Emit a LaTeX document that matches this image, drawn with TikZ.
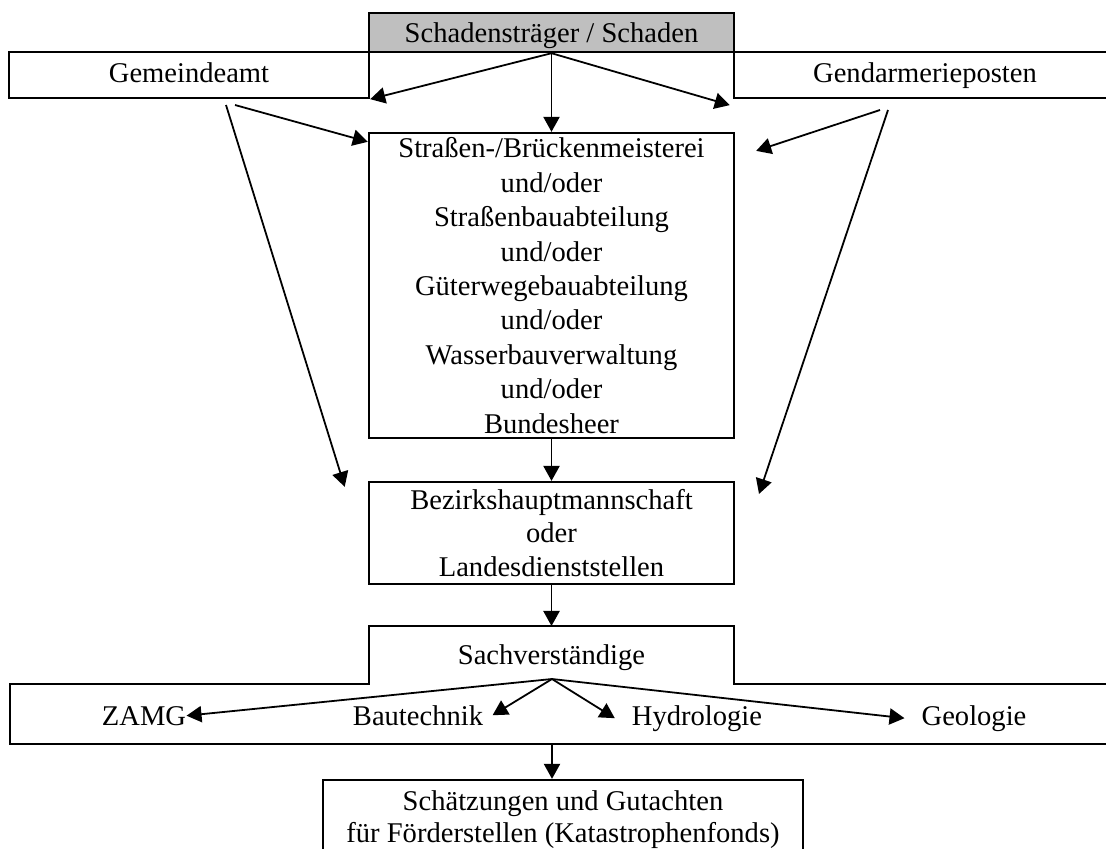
\documentclass[tikz,border=0pt]{standalone}
\usepackage{fontspec}
\setmainfont{Liberation Serif}
\usetikzlibrary{arrows.meta}
\tikzstyle{arr}=[-{Triangle[length=6.3pt,width=6.8pt]},line width=0.75pt]
\tikzstyle{box}=[draw,line width=1pt,inner sep=0pt,align=center]
\tikzstyle{cell}=[box,text height=8pt,text depth=2pt]
\tikzstyle{lbl}=[inner sep=0pt,anchor=base]

\begin{document}
\begin{tikzpicture}[x=0.42pt,y=-0.42pt,font=\fontsize{12}{14.2}\selectfont]
\def\colw{153.3pt}
\useasboundingbox (0,0) rectangle (1106,848);
\clip (0,0) rectangle (1106,848);
% obere Zeilen
\node[cell,text depth=0pt,fill=gray!50,minimum width=\colw,minimum height=16.4pt] (schaden) at (551.5,32.5) {Schadensträger / Schaden};
\node[cell,minimum width=151.2pt,minimum height=19.3pt] (gemeinde) at (189,75) {Gemeindeamt};
\node[cell,minimum width=160.4pt,minimum height=19.3pt] (gendarm) at (925,75) {Gendarmerieposten};
\node[box,minimum width=\colw,minimum height=128.1pt,font=\fontsize{12}{14.45}\selectfont] (mid) at (551.5,285.5)
  {Straßen-/Brückenmeisterei\\und/oder\\Straßenbauabteilung\\und/oder\\Güterwegebauabteilung\\und/oder\\Wasserbauverwaltung\\und/oder\\Bundesheer};
\node[box,minimum width=\colw,minimum height=42.8pt,font=\fontsize{12}{13.9}\selectfont] (bezirk) at (551.5,533)
  {Bezirkshauptmannschaft\\oder\\Landesdienststellen};
% Sachverstaendige
\node[inner sep=0pt,outer sep=0pt,minimum width=\colw,minimum height=24.4pt,text height=8pt,text depth=0pt] (sv) at (551.5,655) {Sachverständige};
\draw[line width=1pt] (10,684) -| (sv.north west) -- (sv.north east) |- (1116,684) -- (1116,744) -- (10,744) -- cycle;
\node[lbl] (zamg) at (144,725) {ZAMG};
\node[lbl] (bau) at (418,725) {Bautechnik};
\node[lbl] (hydro) at (697,725) {Hydrologie};
\node[lbl] (geo) at (974,725) {Geologie};
\node[box,minimum width=201.6pt,minimum height=33.6pt,font=\fontsize{12}{13.5}\selectfont] (gutachten) at (563,820)
  {Schätzungen und Gutachten\\für Förderstellen (Katastrophenfonds)};
% Pfeile
\draw[arr] (schaden.south) -- (gemeinde.south east);
\draw[arr] (schaden.south) -- (mid.north);
\draw[arr] (schaden.south) -- ([xshift=-1.3pt,yshift=-2.5pt]gendarm.south west);
\coordinate (g1) at (226,105);
\coordinate (g2) at (235,105);
\draw[arr] (g2) -- ([yshift=-4.2pt]mid.north west);
\draw[arr] (g1) -- ([xshift=-9.7pt,yshift=-2.5pt]bezirk.north west);
\coordinate (d1) at (880,110);
\coordinate (d2) at (888,110);
\draw[arr] (d1) -- ([xshift=8.8pt,yshift=-8pt]mid.north east);
\draw[arr] (d2) -- ([xshift=10pt,yshift=-5.5pt]bezirk.north east);
\draw[arr] (mid.south) -- (bezirk.north);
\draw[arr] (bezirk.south) -- (sv.north);
\coordinate (svs) at (552,679);
\draw[arr] (svs) -- (zamg.east);
\draw[arr] (svs) -- ([xshift=3.8pt]bau.east);
\draw[arr] (svs) -- ([xshift=-7pt]hydro.west);
\draw[arr] (svs) -- ([xshift=-7pt]geo.west);
\coordinate (wb) at (552,744);
\draw[arr] (wb) -- (wb |- gutachten.north);
\end{tikzpicture}
\end{document}
